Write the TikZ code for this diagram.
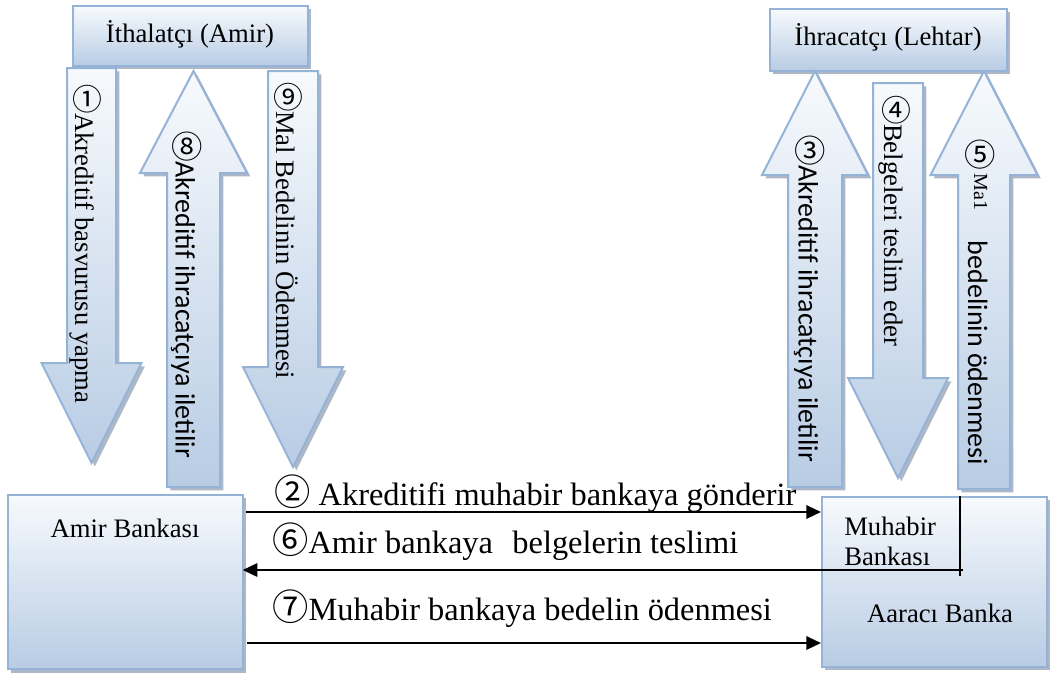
\documentclass[tikz,border=0pt]{standalone}
\usepackage{fontspec}
\setmainfont{Liberation Serif}
\newfontfamily\calib{Carlito}
\newfontfamily\cjkdig[Scale=1.12]{Noto Sans CJK JP}
\usetikzlibrary{arrows.meta,shadows}

\definecolor{shTop}{RGB}{247,250,253}
\definecolor{shBot}{RGB}{184,204,228}
\definecolor{edge}{RGB}{149,179,215}
\definecolor{shadowc}{RGB}{120,135,160}

% circled step numbers, kept upright inside rotated labels
\newcommand\dig[1]{{\cjkdig #1}}
\newcommand\updig[1]{\rotatebox[origin=c]{90}{\cjkdig #1}}

\tikzset{
  panel/.style={draw=edge, line width=1.5pt, top color=shTop, bottom color=shBot,
    drop shadow={shadow xshift=2.5pt, shadow yshift=-2.5pt, fill=shadowc, opacity=.6}},
  blockfill/.style={draw=edge, line width=1.5pt, top color=shTop, bottom color=shBot, line join=miter,
    drop shadow={shadow xshift=2.5pt, shadow yshift=-2.5pt, fill=shadowc, opacity=.6}},
  boxlabel/.style={font=\fontsize{20}{24}\selectfont, inner sep=0pt},
  vser/.style={rotate=-90, anchor=west, inner sep=0pt, font=\fontsize{20}{24}\selectfont},
  vsans/.style={rotate=-90, anchor=west, inner sep=0pt, font=\calib\fontsize{21}{24}\selectfont},
  hlab/.style={anchor=base west, inner sep=0pt, font=\fontsize{24.3}{30}\selectfont},
  conn/.style={line width=1.6pt, -{Triangle[length=11pt,width=10pt]}},
  inner/.style={line width=0.8pt},
}

% block arrow: centre x, half shaft width, half head width, tail y, head base y, tip y
\newcommand\blockarrow[6]{%
  \path[blockfill] ({#1-#2},#4) -- ({#1+#2},#4) -- ({#1+#2},#5) -- ({#1+#3},#5)
    -- (#1,#6) -- ({#1-#3},#5) -- ({#1-#2},#5) -- cycle;}

\begin{document}
\begin{tikzpicture}[x=0.75pt,y=-0.75pt]
\useasboundingbox (0,0) rectangle (1055,678);

% parties
\node[panel, minimum width=176.25pt, minimum height=45pt] (imp) at (190.5,36) {};
\node[boxlabel, anchor=base] (implbl) at (190,42) {İthalatçı (Amir)};
\node[panel, minimum width=177.75pt, minimum height=46.5pt] (exp) at (888.5,40) {};
\node[boxlabel, anchor=base] (explbl) at (888,45) {İhracatçı (Lehtar)};

% flows between the parties and their banks
\blockarrow{91.5}{24.5}{50}{68}{363}{463}
\blockarrow{193.5}{26.5}{53.5}{487}{173}{71}
\blockarrow{293}{25}{50}{71}{367}{467}
\blockarrow{815}{27}{53}{487}{175}{71}
\blockarrow{898}{25}{50}{83}{378}{478}
\blockarrow{984}{26}{53.5}{489}{175}{71}

\node[vser]  (t1) at (86,85)   {\updig{①}Akreditif basvurusu yapma};
\node[vsans] (t8) at (187,132) {\updig{⑧}Akreditif ihracatçıya iletilir};
\node[vser]  (t9) at (288,83)  {\updig{⑨}Mal Bedelinin Ödenmesi};
\node[vsans] (t3) at (810,136) {\updig{③}Akreditif ihracatçıya iletilir};
\node[vser]  (t4) at (895,96)  {\updig{④}Belgeleri teslim eder};
\node[vsans] (t5) at (980,140) {\updig{⑤}\hspace{3pt}\raisebox{4.5pt}{\rmfamily\fontsize{15}{16}\selectfont Ma1}\hspace{1.1em}bedelinin ödenmesi};

% banks
\node[panel, minimum width=176.25pt, minimum height=131pt] (amir) at (125.5,582) {};
\node[boxlabel, anchor=base] (amirlbl) at (125,537) {Amir Bankası};
\node[panel, minimum width=168.75pt, minimum height=127.5pt] (arac) at (934.5,582) {};
\node[boxlabel, anchor=base west] (muh1) at (844,535) {Muhabir};
\node[boxlabel, anchor=base west] (muh2) at (844,565) {Bankası};
\node[boxlabel, anchor=base] (araclbl) at (940,622) {Aaracı Banka};
\coordinate (mcorner) at (960,576);
\draw[inner] (arac.north -| mcorner) -- (mcorner);
\draw[inner] (arac.west |- 0,570) -- (963,570);

% inter-bank messages
\draw[conn, shorten <=1.5pt] (amir.east |- 0,512) -- (arac.west |- 0,512);
\draw[conn, shorten >=-1pt] (arac.west |- 0,570) -- (amir.east |- 0,570);
\draw[conn, shorten <=2pt] (amir.east |- 0,643) -- (arac.west |- 0,643);

\node[hlab] (l2) at (274,505) {\dig{②} Akreditifi muhabir bankaya gönderir};
\node[hlab] (l6) at (272,553) {\dig{⑥}Amir bankaya\hspace{0.6em}belgelerin teslimi};
\node[hlab] (l7) at (272,620) {\dig{⑦}Muhabir bankaya bedelin ödenmesi};
\end{tikzpicture}
\end{document}
